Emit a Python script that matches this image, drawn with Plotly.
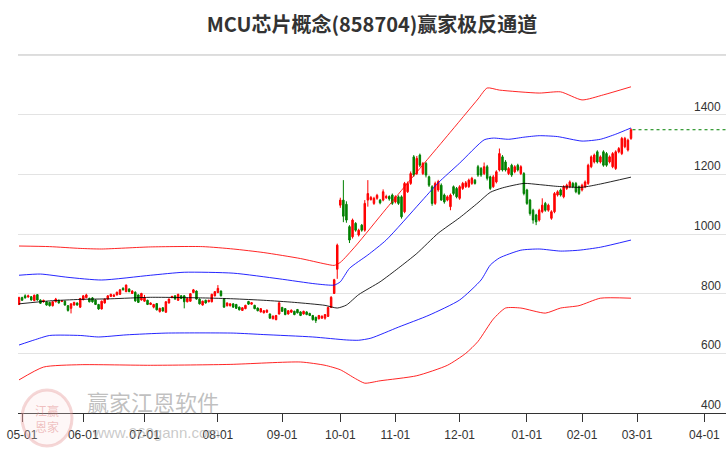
import plotly.graph_objects as go

# ---------------- data ----------------
open_ = [764, 787, 793, 789, 790, 777, 797, 779, 773, 773, 771, 760, 773, 778, 774, 775, 760, 751, 762, 769,
         755, 780, 787, 784, 786, 779, 764, 749, 769, 782, 791, 791, 796, 798, 818, 807, 816, 801, 805,
         796, 779, 775, 778, 764, 755, 767, 740, 753, 738, 769, 787, 793, 778, 793, 793, 773, 775, 804, 809,
         782, 762, 778, 773, 773, 793, 804, 809, 782, 760, 760, 766, 764, 755, 744,
         750, 774, 765, 761, 752, 739, 736, 738, 732, 716, 713, 732, 754, 750, 732, 738, 741, 747, 739, 732,
         739, 734, 727, 721, 716, 718, 718, 724, 754, 801,
         882, 1097, 1114, 1100, 1025, 991, 1036, 997, 1030, 1013, 1114, 1116, 1103, 1120, 1114, 1114, 1122,
         1126, 1131, 1108, 1125, 1125, 1075, 1142, 1170, 1259, 1203, 1265, 1203, 1237, 1192, 1159, 1103, 1148,
         1164,
         1131, 1114, 1092, 1159, 1153, 1120, 1153, 1159, 1159, 1170, 1181, 1226, 1220, 1203, 1226, 1192, 1159,
         1175, 1215, 1259, 1242, 1203, 1231, 1209, 1231, 1203, 1203, 1148, 1114, 1080, 1064, 1047, 1075, 1103,
         1080, 1053, 1075, 1131, 1148, 1125, 1153, 1159, 1170, 1170, 1159, 1148, 1159, 1170, 1226, 1242, 1276,
         1242, 1276, 1270, 1242, 1226, 1220, 1276, 1270, 1293, 1282, 1321]
high = [790, 790, 798, 797, 792, 797, 799, 781, 780, 775, 773, 775, 786, 780, 779, 777, 762, 768, 773, 771,
        786, 795, 800, 787, 789, 781, 766, 777, 784, 795, 800, 798, 807, 816, 822, 831, 818, 812, 808,
        798, 803, 796, 780, 771, 766, 769, 753, 755, 775, 784, 793, 795, 800, 795, 795, 786, 802, 816, 811,
        784, 777, 780, 780, 800, 809, 829, 811, 784, 771, 768, 768, 766, 757, 755,
        763, 776, 772, 763, 754, 752, 745, 747, 734, 727, 729, 774, 756, 752, 745, 747, 743, 749, 741, 743,
        741, 736, 729, 723, 729, 727, 732, 757, 792, 850,
        968, 1122, 1181, 1110, 1030, 1052, 1040, 1018, 1034, 1114, 1181, 1128, 1125, 1135, 1118, 1150, 1132,
        1130, 1136, 1130, 1130, 1130, 1175, 1176, 1210, 1265, 1262, 1270, 1242, 1242, 1196, 1164, 1176, 1182,
        1170,
        1136, 1130, 1136, 1163, 1158, 1164, 1175, 1178, 1186, 1192, 1185, 1232, 1225, 1240, 1232, 1196, 1198,
        1214, 1287, 1265, 1248, 1225, 1236, 1231, 1236, 1231, 1208, 1152, 1118, 1085, 1068, 1085, 1120, 1108,
        1102, 1080, 1141, 1147, 1153, 1164, 1169, 1180, 1175, 1175, 1163, 1169, 1180, 1236, 1264, 1270, 1281,
        1264, 1281, 1275, 1264, 1275, 1281, 1292, 1326, 1326, 1320, 1355]
low = [762, 776, 784, 787, 777, 775, 777, 766, 770, 760, 757, 757, 771, 767, 772, 760, 740, 734, 760, 760,
       752, 778, 785, 771, 770, 762, 746, 747, 767, 780, 789, 789, 794, 796, 811, 805, 805, 799, 773,
       769, 777, 773, 762, 762, 751, 744, 737, 740, 736, 767, 785, 780, 776, 782, 751, 771, 773, 802, 780,
       764, 760, 767, 771, 771, 791, 802, 791, 753, 757, 757, 753, 749, 744, 742,
       748, 763, 763, 748, 741, 737, 734, 736, 716, 714, 711, 730, 739, 728, 730, 736, 728, 734, 725, 730,
       728, 725, 710, 702, 714, 716, 713, 722, 752, 799,
       850, 1088, 1040, 1038, 970, 985, 1008, 992, 1008, 1008, 1092, 1112, 1098, 1115, 1100, 1110, 1118,
       1112, 1098, 1103, 1098, 1052, 1070, 1138, 1165, 1192, 1198, 1225, 1198, 1190, 1158, 1095, 1098, 1142,
       1112,
       1102, 1110, 1080, 1130, 1120, 1115, 1148, 1155, 1155, 1165, 1166, 1192, 1192, 1198, 1180, 1148, 1155,
       1170, 1210, 1210, 1210, 1198, 1192, 1204, 1210, 1198, 1130, 1098, 1062, 1035, 1030, 1042, 1070, 1075,
       1075, 1048, 1070, 1126, 1126, 1120, 1148, 1154, 1154, 1137, 1131, 1143, 1154, 1165, 1221, 1237, 1237,
       1237, 1226, 1226, 1237, 1221, 1215, 1271, 1265, 1288, 1277, 1316]
close = [787, 778, 786, 793, 779, 795, 779, 768, 778, 762, 760, 773, 782, 769, 776, 762, 744, 766, 771, 762,
         784, 793, 796, 773, 773, 764, 749, 775, 782, 793, 798, 796, 805, 813, 813, 829, 807, 809, 776,
         771, 801, 787, 764, 769, 764, 746, 751, 742, 773, 782, 791, 782, 798, 784, 773, 784, 800, 813, 782,
         766, 775, 769, 778, 798, 807, 818, 793, 755, 769, 766, 755, 751, 746, 753,
         761, 765, 770, 750, 743, 750, 743, 745, 718, 725, 727, 769, 741, 730, 743, 745, 730, 736, 727, 741,
         730, 727, 713, 710, 727, 725, 730, 754, 788, 847,
         963, 1114, 1060, 1047, 980, 1047, 1013, 1013, 1013, 1103, 1136, 1123, 1120, 1130, 1105, 1142, 1126,
         1118, 1103, 1125, 1103, 1058, 1170, 1170, 1203, 1198, 1254, 1231, 1237, 1198, 1164, 1103, 1170, 1176,
         1114,
         1108, 1125, 1131, 1136, 1125, 1159, 1170, 1172, 1181, 1187, 1170, 1198, 1198, 1226, 1187, 1153, 1192,
         1209, 1270, 1215, 1215, 1220, 1198, 1226, 1215, 1226, 1136, 1103, 1069, 1047, 1041, 1080, 1097, 1080,
         1097, 1075, 1136, 1142, 1131, 1159, 1164, 1175, 1159, 1142, 1136, 1164, 1175, 1231, 1259, 1265, 1242,
         1259, 1231, 1231, 1259, 1270, 1276, 1287, 1321, 1321, 1315, 1350]

# channel lines (sampled along the trading-day index)
red_up_idx = [0, 10, 20, 27, 43, 60, 70, 80, 92, 100, 103, 105, 110, 120, 130, 140, 150, 153, 157, 170, 177, 184, 191, 200]
red_up_val = [960, 958, 952, 950, 957, 958, 950, 938, 918, 900, 895, 905, 960, 1085, 1208, 1330, 1453, 1490, 1483, 1473, 1477, 1450, 1467, 1494]

blue_up_idx = [0, 7, 16, 27, 43, 54, 70, 85, 97, 103, 105, 108, 114, 120, 131, 137, 144, 152, 155, 160, 165, 170, 176, 184, 190, 195, 200]
blue_up_val = [862, 866, 855, 846, 862, 872, 869, 850, 833, 829, 840, 885, 930, 980, 1104, 1172, 1238, 1316, 1322, 1318, 1325, 1330, 1327, 1312, 1318, 1335, 1356]

mid_idx = [0, 10, 20, 30, 43, 60, 70, 80, 90, 100, 104, 107, 111, 118, 124, 130, 137, 144, 150, 154, 158, 165, 170, 176, 184, 190, 200]
mid_val = [766, 776, 781, 783, 788, 786, 783, 778, 771, 761, 752, 762, 797, 840, 886, 935, 1003, 1055, 1105, 1140, 1155, 1170, 1166, 1160, 1157, 1168, 1191]

blue_lo_idx = [0, 5, 10, 20, 26, 35, 48, 70, 80, 96, 107, 111, 115, 124, 134, 144, 151, 154, 157, 164, 170, 177, 183, 190, 200]
blue_lo_val = [628, 645, 660, 660, 655, 662, 668, 668, 663, 655, 645, 644, 651, 688, 728, 779, 846, 896, 920, 946, 950, 943, 946, 956, 980]

red_lo_idx = [0, 8, 20, 43, 69, 92, 100, 105, 110, 113, 118, 130, 140, 146, 150, 155, 159, 164, 172, 177, 183, 190, 200]
red_lo_val = [511, 554, 562, 560, 563, 571, 560, 545, 515, 500, 508, 525, 560, 600, 640, 715, 752, 752, 735, 752, 760, 785, 785]

tick_idx = [1, 21, 41, 65, 86, 105, 123, 144, 166, 184, 202, 224]
tick_labels = ["05-01", "06-01", "07-01", "08-01", "09-01", "10-01", "11-01", "12-01", "01-01", "02-01", "03-01", "04-01"]

y_ticks = [400, 600, 800, 1000, 1200, 1400, 1600]
y_labels = ["400", "600", "800", "1000", "1200", "1400", ""]

title_text = "MCU芯片概念(858704)赢家极反通道"
x_range = [-0.33, 231.05]
y_range = [400, 1604]

# ---------------- figure ----------------
n = len(close)
xs = list(range(n))

fig = go.Figure()

def chan(xv, yv, color, width=1):
    fig.add_trace(go.Scatter(x=xv, y=yv, mode="lines",
                             line=dict(color=color, width=width, shape="spline", smoothing=0.6),
                             hoverinfo="skip", showlegend=False))

chan(red_up_idx, red_up_val, "rgba(255,0,0,0.85)")
chan(blue_up_idx, blue_up_val, "rgba(0,0,255,0.85)")
chan(mid_idx, mid_val, "rgba(0,0,0,0.85)")
chan(blue_lo_idx, blue_lo_val, "rgba(0,0,255,0.85)")
chan(red_lo_idx, red_lo_val, "rgba(255,0,0,0.85)")

fig.add_trace(go.Candlestick(
    x=xs, open=open_, high=high, low=low, close=close,
    increasing=dict(line=dict(color="#ff0000", width=1), fillcolor="#ff0000"),
    decreasing=dict(line=dict(color="#008000", width=1), fillcolor="#008000"),
    whiskerwidth=0, showlegend=False))

fig.add_trace(go.Scatter(x=[n - 0.5, x_range[1]], y=[close[-1], close[-1]], mode="lines",
                         line=dict(color="#008000", width=1, dash="dot"),
                         hoverinfo="skip", showlegend=False))

fig.update_layout(
    width=726, height=450,
    margin=dict(l=18, r=0, t=54, b=37),
    paper_bgcolor="white", plot_bgcolor="white",
    showlegend=False,
    title=dict(text=title_text, x=0.5, xref="paper", xanchor="center",
               y=1 - 25 / 450, yref="container", yanchor="middle",
               font=dict(family="Noto Sans CJK SC", size=20, color="#333333", weight="bold")),
    xaxis=dict(range=x_range, tickvals=tick_idx, ticktext=tick_labels,
               ticks="outside", ticklen=8, tickcolor="#333333", tickwidth=1,
               ticklabelstandoff=3,
               showline=True, linecolor="#333333", linewidth=1,
               showgrid=False, zeroline=False,
               tickfont=dict(family="Liberation Sans, Arial", size=12, color="#333333"),
               rangeslider=dict(visible=False)),
    yaxis=dict(range=y_range, side="right", tickvals=y_ticks,
               showticklabels=False, ticks="",
               showgrid=True, gridcolor="#e3e3e3", gridwidth=1,
               zeroline=False, showline=False),
)

# top divider line
fig.add_shape(type="line", xref="paper", yref="paper", x0=0, x1=1, y0=0.998, y1=0.998,
              line=dict(color="#dcdcdc", width=1.5), layer="above")

# y tick labels sitting just above their grid lines, right-aligned inside the plot
for v, lab in zip(y_ticks, y_labels):
    if lab:
        fig.add_annotation(xref="paper", yref="y", x=1 - 3 / 708, y=v, text=lab,
                           xanchor="right", yanchor="bottom", yshift=-1, showarrow=False,
                           font=dict(family="Liberation Sans, Arial", size=12, color="#333333"))

# watermark
fig.add_shape(type="circle", xref="paper", yref="paper",
              x0=(22 - 18) / 708, x1=(72 - 18) / 708, y0=(413 - 446) / 359, y1=(413 - 390) / 359,
              line=dict(color="rgba(225,140,140,0.35)", width=3),
              fillcolor="rgba(250,225,225,0.25)", layer="above")
fig.add_annotation(xref="paper", yref="paper", x=(47 - 18) / 708, y=(413 - 418) / 359,
                   xanchor="center", yanchor="middle",
                   text="江赢<br>恩家", showarrow=False,
                   font=dict(family="Noto Sans CJK SC", size=12, color="rgba(220,120,120,0.45)"))
fig.add_annotation(xref="paper", yref="paper", x=(153 - 18) / 708, y=(413 - 401) / 359,
                   xanchor="center", yanchor="middle",
                   text="赢家江恩软件", showarrow=False,
                   font=dict(family="Noto Sans CJK SC", size=22, color="rgba(150,150,150,0.6)"))
fig.add_annotation(xref="paper", yref="paper", x=(156 - 18) / 708, y=(413 - 432) / 359,
                   xanchor="center", yanchor="middle",
                   text="www.360gann.com", showarrow=False,
                   font=dict(family="Liberation Sans, Arial", size=15, color="rgba(165,165,165,0.6)"))

fig.write_html("out.html", config={"displayModeBar": False},
               post_script="document.body.style.margin='0';document.body.style.overflow='hidden';")
